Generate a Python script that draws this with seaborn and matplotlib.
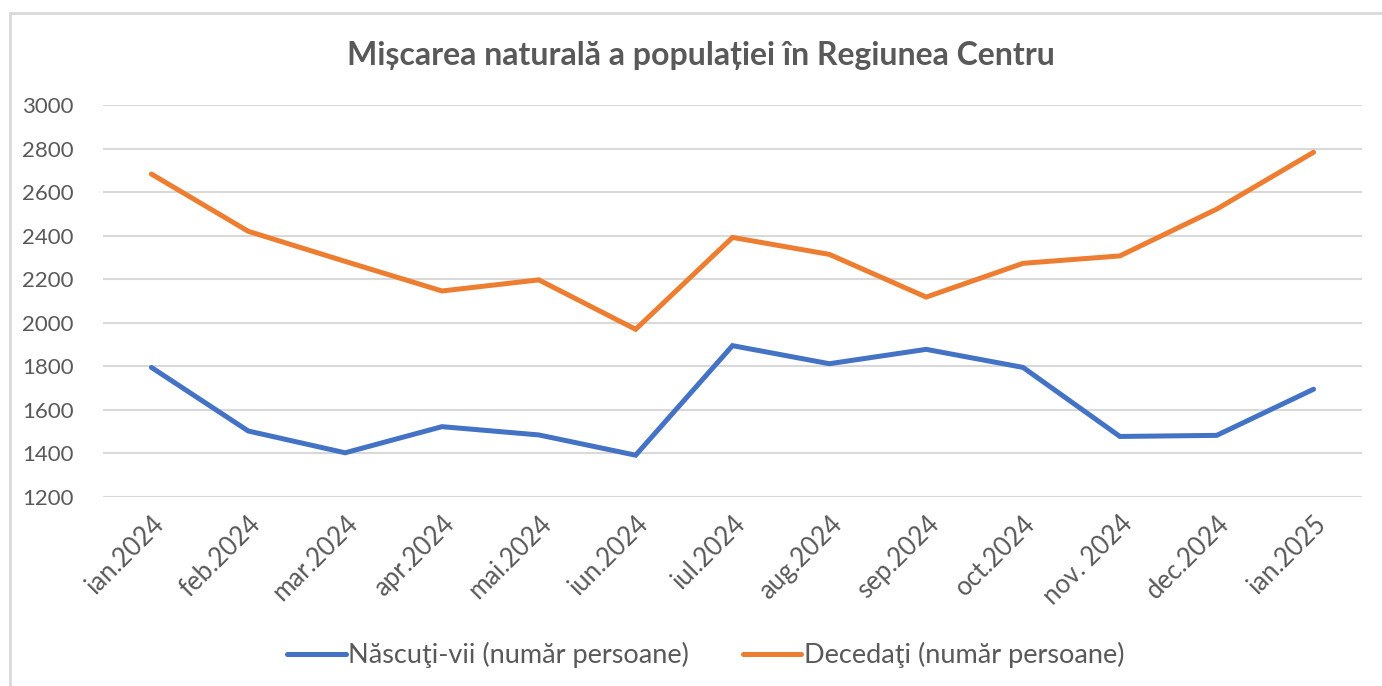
import numpy as np
import pandas as pd
import matplotlib
matplotlib.use("Agg")
import matplotlib.pyplot as plt
from matplotlib.lines import Line2D
import seaborn as sns

luni = ["ian.2024", "feb.2024", "mar.2024", "apr.2024", "mai.2024", "iun.2024",
        "iul.2024", "aug.2024", "sep.2024", "oct.2024", "nov. 2024", "dec.2024",
        "ian.2025"]
nascuti = [1795, 1503, 1403, 1523, 1485, 1392, 1895, 1812, 1878, 1795, 1478, 1483, 1695]
decedati = [2683, 2420, 2282, 2146, 2197, 1970, 2392, 2314, 2118, 2273, 2307, 2522, 2783]
serii = ["Născuţi-vii (număr persoane)", "Decedaţi (număr persoane)"]
culori = ["#4472C4", "#ED7D31"]

df = pd.DataFrame({
    "luna": luni * 2,
    "poz": list(range(len(luni))) * 2,
    "valoare": nascuti + decedati,
    "serie": [serii[0]] * len(luni) + [serii[1]] * len(luni),
})

sns.set_theme(style="white")
plt.rcParams["font.family"] = ["Lato", "DejaVu Sans"]
grey = "#595959"

fig = plt.figure(figsize=(13.82, 6.86), dpi=100)
ax = fig.add_axes([103 / 1382, 1 - 497 / 686, 1259 / 1382, 392 / 686])

sns.lineplot(data=df, x="poz", y="valoare", hue="serie", palette=culori,
             linewidth=3.6, ax=ax, legend=False, sort=False)
for ln in ax.lines:
    ln.set_solid_capstyle("round")
    ln.set_solid_joinstyle("miter")

ax.set_xlim(-0.5, len(luni) - 0.5)
ax.set_ylim(1200, 3000)
ax.set_yticks(np.arange(1200, 3001, 200))
ax.yaxis.grid(True, color="#D9D9D9", linewidth=1.5)
ax.set_axisbelow(True)
for s in ax.spines.values():
    s.set_visible(False)
ax.set_xlabel("")
ax.set_ylabel("")
ax.set_xticks(range(len(luni)))
ax.set_xticklabels(luni, rotation=45, ha="right", va="top",
                   rotation_mode="anchor")
ax.tick_params(axis="y", length=0, pad=21, labelsize=16, labelcolor=grey)
ax.tick_params(axis="x", length=0, pad=10, labelsize=18.5, labelcolor=grey)

fig.text(701 / 1382, 1 - 55 / 686, "Mișcarea naturală a populației în Regiunea Centru",
         ha="center", va="center", fontsize=23, fontweight="bold", color=grey)

handles = [Line2D([0], [0], color=c, linewidth=3.6, solid_capstyle="round") for c in culori]
fig.legend(handles, serii, loc="center", bbox_to_anchor=(706 / 1382, 1 - 655 / 686),
           ncol=2, frameon=False, fontsize=19.5, labelcolor=grey,
           handlelength=2.15, handletextpad=0.1, columnspacing=2.0)

# chenarul graficului (doar stanga si sus sunt vizibile)
fig.add_artist(Line2D([10 / 1382, 10 / 1382], [0, 1 - 13 / 686], color="#D9D9D9", linewidth=2))
fig.add_artist(Line2D([10 / 1382, 1], [1 - 13 / 686, 1 - 13 / 686], color="#D9D9D9", linewidth=2))

fig.savefig("out.png", dpi=100, facecolor="white")
